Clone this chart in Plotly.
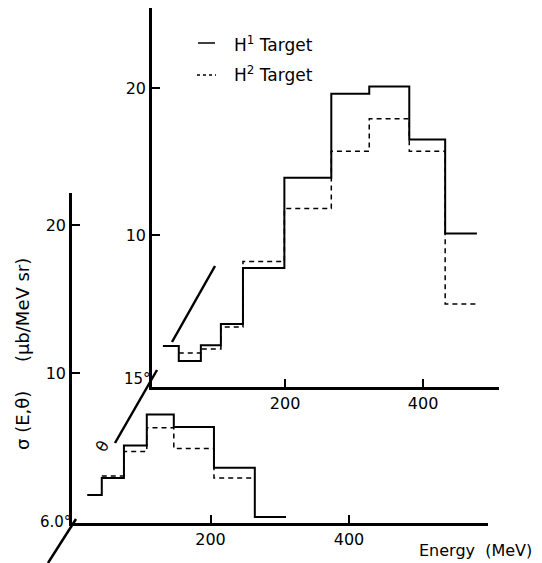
import plotly.graph_objects as go

# ---- data ----
# front panel (theta = 6.0 deg)
front_h1_edges = [22, 43, 75, 108, 147, 205, 264, 309]
front_h1_vals = [1.76, 2.9, 5.1, 7.2, 6.35, 3.6, 0.27]
front_h2_edges = [43, 75, 108, 147, 205, 264]
front_h2_vals = [3.04, 4.7, 6.3, 4.9, 2.9]

# back panel (theta = 15 deg)
back_h1_edges = [23, 46, 78, 107, 139, 199, 267, 322, 380, 432, 478]
back_h1_vals = [2.45, 1.43, 2.5, 3.95, 7.76, 13.9, 19.6, 20.1, 16.5, 10.1]
back_h2_edges = [46, 78, 107, 139, 199, 267, 322, 380, 432, 478]
back_h2_vals = [1.97, 2.24, 3.74, 8.2, 11.8, 15.7, 17.9, 15.7, 5.3]

energy_ticks = [200, 400]
energy_ticklabels = ["200", "400"]
sigma_ticks = [10, 20]
sigma_ticklabels = ["10", "20"]
series_names = ["H<sup>1</sup> Target", "H<sup>2</sup> Target"]

W, H = 542, 563
FONT = "DejaVu Sans"
DASH = "5px,4px"


def fx(px):
    return px / W


def fy(py):
    return 1 - py / H


def steps(edges, vals):
    return list(edges), list(vals) + [vals[-1]]


fig = go.Figure()

x, y = steps(front_h1_edges, front_h1_vals)
fig.add_trace(go.Scatter(x=x, y=y, mode="lines", line=dict(shape="hv", color="black", width=2),
                         name=series_names[0], xaxis="x", yaxis="y"))
x, y = steps(front_h2_edges, front_h2_vals)
fig.add_trace(go.Scatter(x=x, y=y, mode="lines", line=dict(shape="hv", color="black", width=1.5, dash=DASH),
                         name=series_names[1], xaxis="x", yaxis="y"))
x, y = steps(back_h1_edges, back_h1_vals)
fig.add_trace(go.Scatter(x=x, y=y, mode="lines", line=dict(shape="hv", color="black", width=2),
                         name=series_names[0], xaxis="x2", yaxis="y2"))
x, y = steps(back_h2_edges, back_h2_vals)
fig.add_trace(go.Scatter(x=x, y=y, mode="lines", line=dict(shape="hv", color="black", width=1.5, dash=DASH),
                         name=series_names[1], xaxis="x2", yaxis="y2"))

axis_common = dict(showgrid=False, zeroline=False, showline=True, linecolor="black", linewidth=2.5,
                   ticks="inside", ticklen=8, tickwidth=2, tickcolor="black",
                   tickfont=dict(family=FONT, size=16, color="black"))

fig.update_layout(
    width=W, height=H,
    margin=dict(l=0, r=0, t=0, b=0, autoexpand=False),
    paper_bgcolor="white", plot_bgcolor="rgba(0,0,0,0)",
    showlegend=False,
    xaxis=dict(domain=[fx(72), fx(487.5)], range=[0, 600], anchor="y",
               tickvals=energy_ticks, ticktext=energy_ticklabels, **axis_common),
    yaxis=dict(domain=[fy(523), fy(193)], range=[-0.135, 22.16], anchor="x",
               tickvals=sigma_ticks, ticktext=sigma_ticklabels, **axis_common),
    xaxis2=dict(domain=[fx(152), fx(499)], range=[7.2, 510], anchor="y2",
                tickvals=energy_ticks, ticktext=energy_ticklabels, **axis_common),
    yaxis2=dict(domain=[fy(387), fy(8)], range=[-0.34, 25.44], anchor="x2",
                tickvals=sigma_ticks, ticktext=sigma_ticklabels, **axis_common),
)

# theta axis segments (decorative perspective lines)
for (x0, y0, x1, y1) in [(48, 563, 76, 519), (115, 443, 157, 370), (172, 342, 215, 266)]:
    fig.add_shape(type="line", xref="paper", yref="paper", x0=fx(x0), y0=fy(y0), x1=fx(x1), y1=fy(y1),
                  line=dict(color="black", width=2.5))

# legend (short line samples as in the original)
fig.add_shape(type="line", xref="paper", yref="paper", x0=fx(198), x1=fx(215), y0=fy(43), y1=fy(43),
              line=dict(color="black", width=1.5))
fig.add_shape(type="line", xref="paper", yref="paper", x0=fx(197), x1=fx(216), y0=fy(75), y1=fy(75),
              line=dict(color="black", width=1.5, dash="3px,3px"))
leg_font = dict(family=FONT, size=17, color="black")
fig.add_annotation(x=fx(232), y=fy(44), xref="paper", yref="paper", text=series_names[0], showarrow=False,
                   xanchor="left", yanchor="middle", font=leg_font)
fig.add_annotation(x=fx(232), y=fy(74), xref="paper", yref="paper", text=series_names[1], showarrow=False,
                   xanchor="left", yanchor="middle", font=leg_font)

ann_font = dict(family=FONT, size=15, color="black")
fig.add_annotation(x=fx(55), y=fy(522), xref="paper", yref="paper", text="6.0°", showarrow=False,
                   xanchor="center", yanchor="middle", font=ann_font)
fig.add_annotation(x=fx(137), y=fy(379), xref="paper", yref="paper", text="15°", showarrow=False,
                   xanchor="center", yanchor="middle", font=ann_font)
fig.add_annotation(x=fx(102), y=fy(446), xref="paper", yref="paper", text="θ", showarrow=False,
                   xanchor="center", yanchor="middle", font=dict(family=FONT, size=16, color="black"),
                   textangle=-60)
fig.add_annotation(x=fx(475), y=fy(550), xref="paper", yref="paper", text="Energy  (MeV)", showarrow=False,
                   xanchor="center", yanchor="middle", font=dict(family=FONT, size=16, color="black"))
fig.add_annotation(x=fx(22), y=fy(354), xref="paper", yref="paper", text="σ (E,θ)     (μb/MeV sr)",
                   showarrow=False, textangle=-90, xanchor="center", yanchor="middle",
                   font=dict(family=FONT, size=18, color="black"))

fig.write_html("out.html", config={"displayModeBar": False},
               post_script="document.body.style.margin='0';document.body.style.padding='0';")
